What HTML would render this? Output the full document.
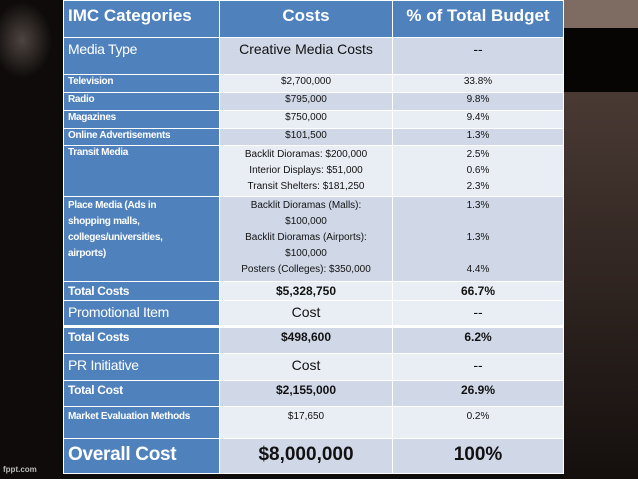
<!DOCTYPE html>
<html><head><meta charset="utf-8"><style>
*{margin:0;padding:0;box-sizing:border-box}
body{width:638px;height:479px;overflow:hidden;background:#0c0a09;font-family:"Liberation Sans",sans-serif;position:relative}
.bg{position:absolute;left:0;top:0;width:638px;height:479px}
table{position:absolute;left:63px;top:0;width:500px;border-collapse:collapse;table-layout:fixed}
td{border:1px solid #fff;vertical-align:top;color:#111;font-size:10px;line-height:12px;padding:1px 4px}
td.c1{background:#4f81bd;color:#fff;font-weight:bold;font-size:10px;letter-spacing:-0.3px}
td.c{text-align:center}
tr.d td.c{background:#d0d8e8}
tr.l td.c{background:#e9edf4}
tr.h td{background:#4f81bd;color:#fff;font-size:17px;font-weight:bold;line-height:30px;padding:0 4px}
.big td.c1{font-size:14px;font-weight:normal;line-height:20px}
.big td.c{font-size:14px;line-height:20px}
.tot td{font-size:12px;font-weight:bold;line-height:16px}
.ov td{font-size:19px;font-weight:bold;line-height:30px}
.fp{position:absolute;left:3px;top:465px;color:#bbb;font-size:8px;font-weight:bold}
</style></head><body>
<svg class="bg" viewBox="0 0 638 479">
<defs>
<radialGradient id="g1" cx="0.5" cy="0.5" r="0.5"><stop offset="0" stop-color="#4e4440"/><stop offset="1" stop-color="#4e4440" stop-opacity="0"/></radialGradient>
<linearGradient id="g2" x1="0" y1="0" x2="0" y2="1"><stop offset="0" stop-color="#4a3a34"/><stop offset="1" stop-color="#140f0d"/></linearGradient>
</defs>
<rect width="638" height="479" fill="#0e0b0a"/>
<ellipse cx="22" cy="40" rx="30" ry="38" fill="url(#g1)"/>
<rect x="563" y="90" width="75" height="389" fill="url(#g2)"/>
<rect x="563" y="0" width="75" height="32" fill="#7e6b62"/>
<rect x="563" y="28" width="75" height="64" fill="#060504"/>
</svg>
<table>
<colgroup><col style="width:156px"><col style="width:173px"><col style="width:171px"></colgroup>
<tr class="h" style="height:37px"><td>IMC Categories</td><td style="text-align:center">Costs</td><td style="text-align:center">% of Total Budget</td></tr>
<tr class="d big" style="height:37px"><td class="c1">Media Type</td><td class="c">Creative Media Costs</td><td class="c">--</td></tr>
<tr class="l" style="height:18px"><td class="c1">Television</td><td class="c">$2,700,000</td><td class="c">33.8%</td></tr>
<tr class="d" style="height:18px"><td class="c1">Radio</td><td class="c">$795,000</td><td class="c">9.8%</td></tr>
<tr class="l" style="height:18px"><td class="c1">Magazines</td><td class="c">$750,000</td><td class="c">9.4%</td></tr>
<tr class="d" style="height:17px"><td class="c1">Online Advertisements</td><td class="c">$101,500</td><td class="c">1.3%</td></tr>
<tr class="l" style="height:51px"><td class="c1">Transit Media</td><td class="c" style="line-height:16px">Backlit Dioramas: $200,000<br>Interior Displays: $51,000<br>Transit Shelters: $181,250</td><td class="c" style="line-height:16px">2.5%<br>0.6%<br>2.3%</td></tr>
<tr class="d" style="height:85px"><td class="c1" style="line-height:16px">Place Media (Ads in<br>shopping malls,<br>colleges/universities,<br>airports)</td><td class="c" style="line-height:16px">Backlit Dioramas (Malls):<br>$100,000<br>Backlit Dioramas (Airports):<br>$100,000<br>Posters (Colleges): $350,000</td><td class="c" style="line-height:16px">1.3%<br><br>1.3%<br><br>4.4%</td></tr>
<tr class="l tot" style="height:19px"><td class="c1">Total Costs</td><td class="c">$5,328,750</td><td class="c">66.7%</td></tr>
<tr class="l big" style="height:26px;border-bottom:3px solid #fff"><td class="c1">Promotional Item</td><td class="c">Cost</td><td class="c">--</td></tr>
<tr class="d tot" style="height:27px"><td class="c1">Total Costs</td><td class="c">$498,600</td><td class="c">6.2%</td></tr>
<tr class="l big" style="height:27px"><td class="c1">PR Initiative</td><td class="c">Cost</td><td class="c">--</td></tr>
<tr class="d tot" style="height:26px"><td class="c1">Total Cost</td><td class="c">$2,155,000</td><td class="c">26.9%</td></tr>
<tr class="l" style="height:32px"><td class="c1" style="padding-top:4px">Market Evaluation Methods</td><td class="c" style="padding-top:4px">$17,650</td><td class="c" style="padding-top:4px">0.2%</td></tr>
<tr class="d ov" style="height:35px"><td class="c1" style="font-size:19px;line-height:30px">Overall Cost</td><td class="c">$8,000,000</td><td class="c">100%</td></tr>
</table>
<div class="fp">fppt.com</div>
</body></html>
